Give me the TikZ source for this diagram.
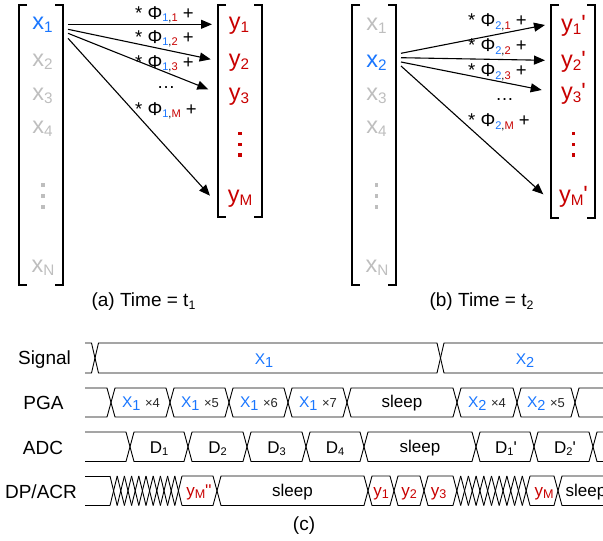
\documentclass[tikz,border=0pt]{standalone}
\usepackage{fontspec}
\setmainfont{Liberation Sans}
\newfontfamily\primefont{Liberation Sans}
\usetikzlibrary{arrows.meta}
\definecolor{xblue}{RGB}{25,118,255}
\definecolor{yred}{RGB}{200,0,0}
\definecolor{xgrey}{RGB}{190,190,190}
\newcommand\prm{{\primefont'}}
\makeatletter
\newcommand\sbx[2][0.65]{\raisebox{-0.14em}{\pgfmathsetmacro\sbxsz{#1*\f@size}\fontsize{\sbxsz}{\sbxsz}\selectfont #2}}
\makeatother
\newcommand\hexseg[5]{\draw[bus] (#1,{(#3+#4)/2}) -- (#1+#5,#3) -- (#2-#5,#3) -- (#2,{(#3+#4)/2}) -- (#2-#5,#4) -- (#1+#5,#4) -- cycle;}
\newcommand\lopen[5]{\draw[bus] (#1,#3) -- (#2-#5,#3) -- (#2,{(#3+#4)/2}) -- (#2-#5,#4) -- (#1,#4);}
\newcommand\ropen[5]{\draw[bus] (#2,#3) -- (#1+#5,#3) -- (#1,{(#3+#4)/2}) -- (#1+#5,#4) -- (#2,#4);}
\newcommand\hatchx[5]{%
  \pgfmathsetmacro\hatchw{(#2-#1)/#3}%
  \foreach \k in {1,...,#3}{%
    \draw[bus] ({#1+(\k-1)*\hatchw},#4) -- ({#1+\k*\hatchw},#5);
    \draw[bus] ({#1+(\k-1)*\hatchw},#5) -- ({#1+\k*\hatchw},#4);
  }}
\newcommand\gain[1]{{\fontsize{13}{15}\selectfont\color{black!85}×#1}}
\newcommand\bigX[1]{{\fontsize{15.5}{18}\selectfont\color{xblue}X\raisebox{-0.2em}{\fontsize{14.5}{16}\selectfont #1}}}
\begin{document}
\begin{tikzpicture}[x=1pt,y=-1pt,
  brk/.style={line width=1.8pt,line join=miter},
  arr/.style={line width=1.1pt,-{Triangle[length=11pt,width=9pt]}},
  vec/.style={font=\fontsize{23.5}{26}\selectfont, anchor=base, inner sep=0pt},
  phi/.style={font=\fontsize{18.5}{21}\selectfont, anchor=base west, inner sep=0pt},
  captxt/.style={font=\fontsize{19}{22}\selectfont, anchor=base, inner sep=0pt},
  bus/.style={line width=0.9pt, line join=miter},
  btxt/.style={font=\fontsize{17}{20}\selectfont, anchor=base, inner sep=0pt},
  sq/.style={fill, minimum size=3.4pt, inner sep=0pt}
]
\useasboundingbox (0,0) rectangle (603,541);

% ---------- panel (a)
\draw[brk] (27,5) -| (19,285) -- (27,285);
\draw[brk] (55,5) -| (63,285) -- (55,285);
\draw[brk] (226,5) -| (218,217) -- (226,217);
\draw[brk] (254,5) -| (262,217) -- (254,217);

\node[vec,xblue] (ax1) at (42.5,29.5) {x\sbx{1}};
\node[vec,xgrey] (ax2) at (42.5,66) {x\sbx{2}};
\node[vec,xgrey] (ax3) at (42.5,100) {x\sbx{3}};
\node[vec,xgrey] (ax4) at (42.5,133) {x\sbx{4}};
\node[vec,xgrey] (axN) at (43,272) {x\sbx{N}};
\node[sq,xgrey] (ad1) at (43,185) {};
\node[sq,xgrey] (ad2) at (43,196) {};
\node[sq,xgrey] (ad3) at (43,207) {};

\node[vec,yred] (ay1) at (239,29) {y\sbx{1}};
\node[vec,yred] (ay2) at (239,66) {y\sbx{2}};
\node[vec,yred] (ay3) at (239,100) {y\sbx{3}};
\node[vec,yred] (ayM) at (240,202) {y\sbx{M}};
\node[sq,yred] (ar1) at (240,133.3) {};
\node[sq,yred] (ar2) at (240,144.3) {};
\node[sq,yred] (ar3) at (240,155) {};

\node[phi] (pa1) at (135,19) {* Φ\sbx[0.6]{\textcolor{xblue}{1},\textcolor{yred}{1}} +};
\node[phi] (pa2) at (135,43.3) {* Φ\sbx[0.6]{\textcolor{xblue}{1},\textcolor{yred}{2}} +};
\node[phi] (pa3) at (135,68.3) {* Φ\sbx[0.6]{\textcolor{xblue}{1},\textcolor{yred}{3}} +};
\node[phi,anchor=base] (pad) at (166,88.5) {…};
\node[phi] (paM) at (135,115) {* Φ\sbx[0.6]{\textcolor{xblue}{1},\textcolor{yred}{M}} +};

\coordinate (sa1) at (68,24.3);
\coordinate (sa2) at (68,29.3);
\coordinate (sa3) at (68,33.3);
\coordinate (sa4) at (68,38.3);
\coordinate (ea1) at (212,24.3);
\coordinate (ea2) at (210.7,59.3);
\coordinate (ea3) at (208.3,89.3);
\coordinate (ea4) at (210,195.7);
\draw[arr] (sa1) -- (ea1);
\draw[arr] (sa2) -- (ea2);
\draw[arr] (sa3) -- (ea3);
\draw[arr] (sa4) -- (ea4);

\node[captxt] (capa) at (143.5,306.5) {(a) Time = t\sbx{1}};

% ---------- panel (b)
\draw[brk] (360,5) -| (352,285) -- (360,285);
\draw[brk] (388,5) -| (396,285) -- (388,285);
\draw[brk] (559,5) -| (551,218) -- (559,218);
\draw[brk] (587,5) -| (595,218) -- (587,218);

\node[vec,xgrey] (bx1) at (376.5,30) {x\sbx{1}};
\node[vec,xblue] (bx2) at (376.5,67) {x\sbx{2}};
\node[vec,xgrey] (bx3) at (376.5,100) {x\sbx{3}};
\node[vec,xgrey] (bx4) at (376.5,133) {x\sbx{4}};
\node[vec,xgrey] (bxN) at (377,272) {x\sbx{N}};
\node[sq,xgrey] (bd1) at (376.7,185) {};
\node[sq,xgrey] (bd2) at (376.7,196) {};
\node[sq,xgrey] (bd3) at (376.7,207) {};

\node[vec,yred] (by1) at (573.5,31) {y\sbx{1}\prm};
\node[vec,yred] (by2) at (573.5,67) {y\sbx{2}\prm};
\node[vec,yred] (by3) at (573.5,99) {y\sbx{3}\prm};
\node[vec,yred] (byM) at (573.5,202) {y\sbx{M}\prm};
\node[sq,yred] (br1) at (573.3,133.3) {};
\node[sq,yred] (br2) at (573.3,144.3) {};
\node[sq,yred] (br3) at (573.3,155) {};

\node[phi] (pb1) at (468,26.5) {* Φ\sbx[0.6]{\textcolor{xblue}{2},\textcolor{yred}{1}} +};
\node[phi] (pb2) at (468,51.5) {* Φ\sbx[0.6]{\textcolor{xblue}{2},\textcolor{yred}{2}} +};
\node[phi] (pb3) at (468,76.5) {* Φ\sbx[0.6]{\textcolor{xblue}{2},\textcolor{yred}{3}} +};
\node[phi,anchor=base] (pbd) at (504.5,100) {…};
\node[phi] (pbM) at (468,126.5) {* Φ\sbx[0.6]{\textcolor{xblue}{2},\textcolor{yred}{M}} +};

\coordinate (sb1) at (401,53.3);
\coordinate (sb2) at (401,57.7);
\coordinate (sb3) at (401,62);
\coordinate (sb4) at (401,66);
\coordinate (eb1) at (545,25);
\coordinate (eb2) at (545,60.3);
\coordinate (eb3) at (541.7,90);
\coordinate (eb4) at (543.3,194.3);
\draw[arr] (sb1) -- (eb1);
\draw[arr] (sb2) -- (eb2);
\draw[arr] (sb3) -- (eb3);
\draw[arr] (sb4) -- (eb4);

\node[captxt] (capb) at (481.5,306.5) {(b) Time = t\sbx{2}};

% ---------- timing diagram (c)
\node[captxt] (lsig) at (44.5,364.5) {Signal};
\node[captxt] (lpga) at (43.5,409) {PGA};
\node[captxt] (ladc) at (43,454) {ADC};
\node[captxt] (ldp) at (41,498) {DP/ACR};

% Signal row
\lopen{85}{95}{343}{373}{3.5}
\hexseg{95}{440.5}{343}{373}{3.5}
\ropen{440.5}{612}{343}{373}{3.5}
\node[btxt] (sX1) at (264,364.5) {\bigX{1}};
\node[btxt] (sX2) at (525,364.5) {\bigX{2}};

% PGA row
\lopen{85}{111}{388}{417}{4}
\foreach \a/\b in {111/170,170/229,229/288,288/347,347/457,457/517,517/575}{\hexseg{\a}{\b}{388}{417}{4}}
\ropen{575}{612}{388}{417}{4}
\node[btxt] (pg1) at (141,407.5) {\bigX{1} \gain{4}};
\node[btxt] (pg2) at (200,407.5) {\bigX{1} \gain{5}};
\node[btxt] (pg3) at (259,407.5) {\bigX{1} \gain{6}};
\node[btxt] (pg4) at (318,407.5) {\bigX{1} \gain{7}};
\node[btxt] (pgs) at (402,407) {sleep};
\node[btxt] (pg5) at (487,407.5) {\bigX{2} \gain{4}};
\node[btxt] (pg6) at (546,407.5) {\bigX{2} \gain{5}};

% ADC row
\lopen{85}{130}{432}{461.5}{4}
\foreach \a/\b in {130/188,188/247,247/306,306/364,364/476,476/534,534/593}{\hexseg{\a}{\b}{432}{461.5}{4}}
\ropen{593}{612}{432}{461.5}{4}
\node[btxt] (ad1t) at (159,453.5) {D\sbx{1}};
\node[btxt] (ad2t) at (217.5,453.5) {D\sbx{2}};
\node[btxt] (ad3t) at (276.5,453.5) {D\sbx{3}};
\node[btxt] (ad4t) at (335,453.5) {D\sbx{4}};
\node[btxt] (ads) at (420,452) {sleep};
\node[btxt] (ad5t) at (506,453.5) {D\sbx{1}\prm};
\node[btxt] (ad6t) at (565,453.5) {D\sbx{2}\prm};

% DP/ACR row
\draw[bus] (110,476) -- (85,476);
\draw[bus] (85,505.5) -- (110,505.5);
\hatchx{110}{182}{10}{476}{505.5}
\draw[bus] (182,476) -- (213,476) -- (217,490.75) -- (213,505.5) -- (182,505.5);
\foreach \a/\b in {217/368,368/394,394/424}{\hexseg{\a}{\b}{476}{505.5}{4}}
\draw[bus] (453,476) -- (428,476) -- (424,490.75) -- (428,505.5) -- (453,505.5);
\hatchx{453}{530}{10}{476}{505.5}
\draw[bus] (530,476) -- (554,476) -- (558,490.75) -- (554,505.5) -- (530,505.5);
\ropen{558}{612}{476}{505.5}{4}
\node[btxt,yred] (dpm) at (199,496) {y\sbx[0.74]{M}\prm\prm};
\node[btxt] (dps1) at (292.5,496) {sleep};
\node[btxt,yred] (dy1) at (381,496) {y\sbx[0.74]{1}};
\node[btxt,yred] (dy2) at (409,496) {y\sbx[0.74]{2}};
\node[btxt,yred] (dy3) at (438.5,496) {y\sbx[0.74]{3}};
\node[btxt,yred] (dyM) at (544,496) {y\sbx[0.74]{M}};
\node[btxt] (dps2) at (586,496) {sleep};

\node[captxt] (capc) at (304,530) {(c)};
\end{tikzpicture}
\end{document}
